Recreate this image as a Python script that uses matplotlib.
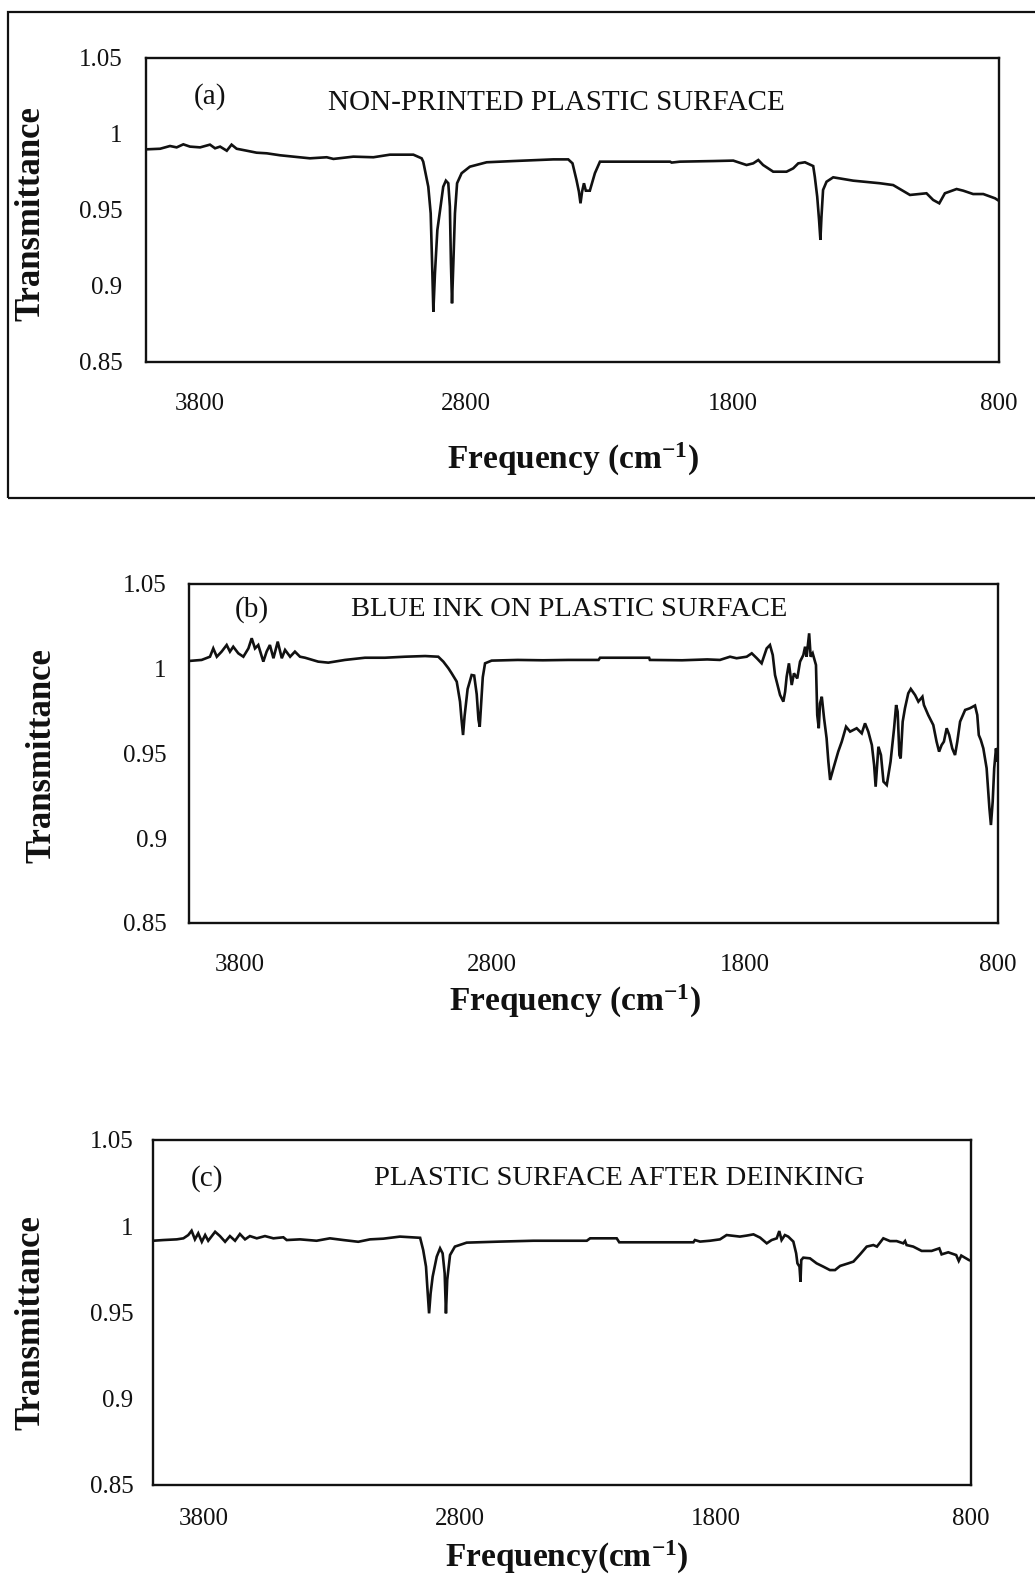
import matplotlib
matplotlib.use('Agg')
import matplotlib.pyplot as plt
from matplotlib.patches import Rectangle

plt.rcParams['font.family'] = ['Liberation Serif', 'DejaVu Serif']
plt.rcParams['mathtext.fontset'] = 'custom'
plt.rcParams['mathtext.rm'] = 'Liberation Serif'
plt.rcParams['mathtext.bf'] = 'Liberation Serif:bold'
plt.rcParams['mathtext.it'] = 'Liberation Serif:italic'

# ---------------- data ----------------
x_ticks = [3800, 2800, 1800, 800]
x_tick_labels = ['3800', '2800', '1800', '800']
y_ticks = [0.85, 0.9, 0.95, 1.0, 1.05]
y_tick_labels = ['0.85', '0.9', '0.95', '1', '1.05']

panel_letters = ['(a)', '(b)', '(c)']
panel_titles = ['NON-PRINTED PLASTIC SURFACE',
                'BLUE INK ON PLASTIC SURFACE',
                'PLASTIC SURFACE AFTER DEINKING']
x_labels = [r'Frequency (cm$^{\mathbf{-1}}$)',
            r'Frequency (cm$^{\mathbf{-1}}$)',
            r'Frequency(cm$^{\mathbf{-1}}$)']
y_label = 'Transmittance'

freq_a = [4000, 3947, 3910, 3885, 3860, 3835, 3797, 3760, 3741, 3722, 3697, 3679,
          3660, 3622, 3585, 3547, 3497, 3447, 3385, 3322, 3297, 3222, 3147, 3085,
          2997, 2966, 2960, 2941, 2932, 2926, 2922, 2916, 2907, 2895, 2885, 2875,
          2866, 2860, 2856, 2852, 2847, 2841, 2833, 2816, 2785, 2722, 2622, 2472,
          2416, 2400, 2385, 2376, 2370, 2364, 2357, 2350, 2335, 2316, 2297, 2034,
          2028, 1997, 1872, 1797, 1747, 1722, 1703, 1685, 1647, 1597, 1572, 1553,
          1528, 1497, 1491, 1482, 1475, 1470, 1466, 1460, 1447, 1422, 1347, 1247,
          1197, 1134, 1072, 1047, 1024, 1003, 959, 934, 897, 859, 815, 800]
trans_a = [0.9899, 0.9903, 0.9921, 0.9912, 0.9932, 0.9917, 0.9912, 0.9930, 0.9906,
           0.9917, 0.9890, 0.9930, 0.9903, 0.9890, 0.9877, 0.9873, 0.9860, 0.9851,
           0.9840, 0.9847, 0.9836, 0.9851, 0.9847, 0.9864, 0.9864, 0.9840, 0.9818,
           0.9653, 0.9478, 0.9105, 0.8831, 0.9084, 0.9368, 0.9522, 0.9653, 0.9693,
           0.9676, 0.9522, 0.9150, 0.8886, 0.9150, 0.9478, 0.9676, 0.9742, 0.9785,
           0.9814, 0.9822, 0.9833, 0.9833, 0.9807, 0.9697, 0.9621, 0.9544, 0.9621,
           0.9676, 0.9627, 0.9627, 0.9742, 0.9818, 0.9818, 0.9812, 0.9818, 0.9822,
           0.9825, 0.9796, 0.9807, 0.9829, 0.9796, 0.9752, 0.9752, 0.9774, 0.9807,
           0.9814, 0.9789, 0.9719, 0.9588, 0.9434, 0.9303, 0.9456, 0.9632, 0.9686,
           0.9715, 0.9693, 0.9676, 0.9664, 0.9599, 0.9610, 0.9566, 0.9544, 0.9610,
           0.9638, 0.9627, 0.9605, 0.9605, 0.9577, 0.9560]

freq_b = [4000, 3950, 3917, 3904, 3890, 3871, 3851, 3838, 3825, 3805, 3785, 3765,
          3752, 3739, 3726, 3706, 3693, 3680, 3666, 3649, 3633, 3620, 3600, 3581,
          3561, 3541, 3489, 3449, 3383, 3304, 3225, 3146, 3066, 3014, 2994, 2974,
          2961, 2941, 2928, 2922, 2916, 2910, 2898, 2882, 2872, 2862, 2855, 2850,
          2845, 2838, 2829, 2803, 2700, 2600, 2500, 2380, 2374, 2180, 2177, 2050,
          1950, 1900, 1860, 1834, 1794, 1774, 1754, 1735, 1715, 1702, 1691, 1682,
          1669, 1662, 1649, 1642, 1636, 1627, 1616, 1607, 1594, 1583, 1570, 1563,
          1557, 1547, 1541, 1533, 1520, 1515, 1509, 1504, 1497, 1488, 1478, 1471,
          1464, 1451, 1432, 1418, 1401, 1385, 1359, 1339, 1326, 1313, 1299, 1290,
          1284, 1273, 1263, 1253, 1240, 1225, 1211, 1203, 1197, 1190, 1185, 1177,
          1168, 1155, 1145, 1128, 1115, 1099, 1093, 1076, 1056, 1043, 1033, 1023,
          1014, 1003, 993, 981, 970, 961, 950, 930, 911, 891, 882, 876, 868, 858,
          845, 834, 828, 821, 815, 808, 803, 800]
trans_b = [1.0046, 1.0052, 1.0071, 1.0120, 1.0071, 1.0101, 1.0140, 1.0101, 1.0130,
           1.0091, 1.0071, 1.0120, 1.0180, 1.0120, 1.0140, 1.0042, 1.0101, 1.0140,
           1.0062, 1.0160, 1.0062, 1.0111, 1.0071, 1.0101, 1.0071, 1.0065, 1.0042,
           1.0036, 1.0052, 1.0065, 1.0065, 1.0071, 1.0075, 1.0071, 1.0042, 1.0003,
           0.9973, 0.9924, 0.9806, 0.9700, 0.9609, 0.9720, 0.9880, 0.9963, 0.9960,
           0.9850, 0.9700, 0.9658, 0.9780, 0.9950, 1.0032, 1.0048, 1.0052, 1.0050,
           1.0052, 1.0052, 1.0065, 1.0065, 1.0052, 1.0050, 1.0055, 1.0052, 1.0071,
           1.0062, 1.0071, 1.0091, 1.0062, 1.0032, 1.0120, 1.0140, 1.0081, 0.9963,
           0.9885, 0.9845, 0.9806, 0.9865, 0.9953, 1.0032, 0.9904, 0.9973, 0.9943,
           1.0042, 1.0081, 1.0130, 1.0071, 1.0209, 1.0071, 1.0091, 1.0022, 0.9727,
           0.9649, 0.9796, 0.9835, 0.9708, 0.9590, 0.9452, 0.9344, 0.9413, 0.9511,
           0.9570, 0.9658, 0.9629, 0.9649, 0.9619, 0.9678, 0.9629, 0.9550, 0.9432,
           0.9304, 0.9540, 0.9491, 0.9334, 0.9314, 0.9452, 0.9649, 0.9786, 0.9747,
           0.9491, 0.9471, 0.9688, 0.9767, 0.9855, 0.9881, 0.9845, 0.9806, 0.9835,
           0.9786, 0.9727, 0.9668, 0.9570, 0.9511, 0.9550, 0.9570, 0.9649, 0.9609,
           0.9530, 0.9491, 0.9570, 0.9688, 0.9757, 0.9767, 0.9783, 0.9727, 0.9609,
           0.9580, 0.9530, 0.9413, 0.9177, 0.9078, 0.9216, 0.9413, 0.9530, 0.9452,
           0.9530]

freq_c = [4000, 3960, 3907, 3881, 3862, 3849, 3836, 3823, 3809, 3796, 3784, 3757,
          3738, 3718, 3699, 3679, 3660, 3640, 3621, 3594, 3562, 3529, 3490, 3477,
          3425, 3360, 3308, 3255, 3197, 3151, 3099, 3034, 2955, 2943, 2932, 2927,
          2920, 2914, 2906, 2890, 2877, 2867, 2859, 2854, 2849, 2838, 2819, 2773,
          2643, 2512, 2303, 2290, 2186, 2176, 1886, 1880, 1860, 1821, 1782, 1756,
          1704, 1677, 1651, 1625, 1599, 1580, 1560, 1550, 1541, 1528, 1515, 1495,
          1484, 1479, 1471, 1467, 1464, 1456, 1430, 1404, 1378, 1352, 1332, 1312,
          1280, 1260, 1234, 1208, 1182, 1168, 1143, 1117, 1091, 1065, 1058, 1052,
          1026, 993, 954, 924, 915, 889, 858, 848, 838, 808, 800]
trans_c = [0.9916, 0.9920, 0.9924, 0.9930, 0.9949, 0.9974, 0.9924, 0.9959, 0.9910,
           0.9949, 0.9916, 0.9968, 0.9943, 0.9910, 0.9943, 0.9916, 0.9955, 0.9924,
           0.9943, 0.9930, 0.9943, 0.9930, 0.9936, 0.9920, 0.9924, 0.9916, 0.9930,
           0.9920, 0.9910, 0.9924, 0.9928, 0.9940, 0.9933, 0.9862, 0.9766, 0.9650,
           0.9495, 0.9611, 0.9708, 0.9824, 0.9872, 0.9843, 0.9727, 0.9495, 0.9689,
           0.9833, 0.9882, 0.9905, 0.9911, 0.9916, 0.9916, 0.9930, 0.9930, 0.9907,
           0.9907, 0.9920, 0.9911, 0.9916, 0.9924, 0.9949, 0.9940, 0.9946, 0.9953,
           0.9934, 0.9901, 0.9920, 0.9930, 0.9972, 0.9920, 0.9949, 0.9940, 0.9911,
           0.9843, 0.9785, 0.9766, 0.9679, 0.9804, 0.9818, 0.9814, 0.9785, 0.9766,
           0.9746, 0.9746, 0.9770, 0.9785, 0.9795, 0.9837, 0.9882, 0.9891, 0.9882,
           0.9930, 0.9914, 0.9914, 0.9901, 0.9914, 0.9891, 0.9882, 0.9857, 0.9857,
           0.9872, 0.9837, 0.9849, 0.9833, 0.9799, 0.9830, 0.9804, 0.9800]

series = [(freq_a, trans_a), (freq_b, trans_b), (freq_c, trans_c)]

# ---------------- layout ----------------
W, H = 1035, 1577
fig = plt.figure(figsize=(W / 100, H / 100), dpi=100)

# axes boxes in pixels: left, right, top, bottom
boxes = [(146, 999, 58, 362), (189, 998, 584, 923), (153, 971, 1140, 1485)]
letter_pos = [(0.056, 0.872), (0.056, 0.926), (0.046, 0.887)]
title_pos = [(0.213, 0.852), (0.200, 0.926), (0.270, 0.887)]
title_size = [21, 20.5, 20.5]
xlabel_pos = [(0.500, -0.322), (0.477, -0.230), (0.506, -0.209)]
ylabel_pos = [(-0.135, 0.487), (-0.182, 0.493), (-0.149, 0.472)]
xpad = [22.5, 22.5, 16.5]
ypad = [17, 16, 14]

ink = '#111111'

for i, (l, r, t, b) in enumerate(boxes):
    ax = fig.add_axes([l / W, 1 - b / H, (r - l) / W, (b - t) / H])
    f, v = series[i]
    ax.plot(f, v, color=ink, lw=1.9, solid_joinstyle='miter')
    ax.set_xlim(4000, 800)
    ax.set_ylim(0.85, 1.05)
    ax.set_xticks(x_ticks)
    ax.set_xticklabels(x_tick_labels)
    ax.set_yticks(y_ticks)
    ax.set_yticklabels(y_tick_labels)
    ax.tick_params(axis='x', length=0, pad=xpad[i], labelsize=18, colors=ink)
    ax.tick_params(axis='y', length=0, pad=ypad[i], labelsize=18, colors=ink)
    for sp in ax.spines.values():
        sp.set_linewidth(1.7)
        sp.set_color(ink)

    ax.text(letter_pos[i][0], letter_pos[i][1], panel_letters[i], transform=ax.transAxes,
            fontsize=21, ha='left', va='center', color=ink)
    ax.text(title_pos[i][0], title_pos[i][1], panel_titles[i], transform=ax.transAxes,
            fontsize=title_size[i], ha='left', va='center', color=ink)

    ax.set_xlabel(x_labels[i], fontsize=24, fontweight='bold', color=ink)
    ax.xaxis.label.set_va('center')
    ax.xaxis.set_label_coords(*xlabel_pos[i])
    ax.set_ylabel(y_label, fontsize=25, fontweight='bold', color=ink)
    ax.yaxis.label.set_va('center')
    ax.yaxis.set_label_coords(*ylabel_pos[i])

# outer frame around panel (a)
frame = Rectangle((8 / W, 1 - 498 / H), 1.05, (498 - 12) / H, transform=fig.transFigure,
                  fill=False, edgecolor=ink, linewidth=1.6, clip_on=False)
fig.add_artist(frame)

fig.savefig('out.png', dpi=100, facecolor='white')
